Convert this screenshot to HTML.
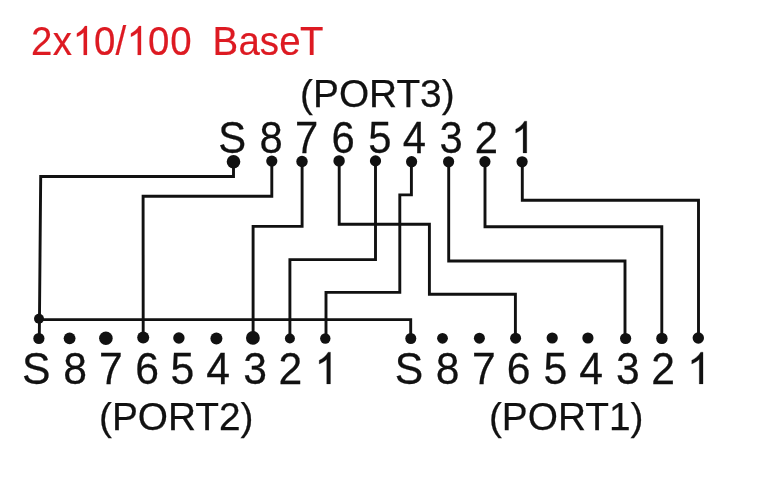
<!DOCTYPE html>
<html><head><meta charset="utf-8"><style>
html,body{margin:0;padding:0;background:#fff;overflow:hidden;}
svg{display:block;filter:blur(0.3px);}
text{font-family:"Liberation Sans",sans-serif;}
.g text,.g path{stroke:#111;stroke-width:0.25px;vector-effect:non-scaling-stroke;}
.r text,.r path{stroke:#dd1a22;stroke-width:0.2px;vector-effect:non-scaling-stroke;}
</style></head><body>
<svg width="762" height="485" viewBox="0 0 762 485">
<rect width="762" height="485" fill="#fff"/>
<g class="r" fill="#dd1a22" text-anchor="middle">
<text transform="translate(41.6 54.9) scale(0.96 1)" font-size="40">2</text>
<text transform="translate(62.3 54.9) scale(0.96 1)" font-size="40">x</text>
<path transform="translate(72.7 54.9) scale(38.4 40)" d="M0.3726 0 L0.2847 0 L0.2847 -0.5601 C0.2390 -0.5170 0.1700 -0.4760 0.1090 -0.4530 L0.1090 -0.5380 C0.1850 -0.5740 0.2640 -0.6330 0.3190 -0.7220 L0.3726 -0.7220 Z"/>
<text transform="translate(104.75 54.9) scale(0.96 1)" font-size="40">0</text>
<text transform="translate(120.85 54.9) scale(0.96 1)" font-size="40">/</text>
<path transform="translate(126.75 54.9) scale(38.4 40)" d="M0.3726 0 L0.2847 0 L0.2847 -0.5601 C0.2390 -0.5170 0.1700 -0.4760 0.1090 -0.4530 L0.1090 -0.5380 C0.1850 -0.5740 0.2640 -0.6330 0.3190 -0.7220 L0.3726 -0.7220 Z"/>
<text transform="translate(158.75 54.9) scale(0.96 1)" font-size="40">0</text>
<text transform="translate(180.8 54.9) scale(0.96 1)" font-size="40">0</text>
<text transform="translate(225.2 54.9) scale(0.96 1)" font-size="40">B</text>
<text transform="translate(249.1 54.9) scale(0.96 1)" font-size="40">a</text>
<text transform="translate(269.25 54.9) scale(0.96 1)" font-size="40">s</text>
<text transform="translate(289.9 54.9) scale(0.96 1)" font-size="40">e</text>
<text transform="translate(311.75 54.9) scale(0.96 1)" font-size="40">T</text>
</g>
<g class="g" fill="#111" text-anchor="middle" font-size="38.8">
<text x="377.35" y="106.9">(PORT3)</text>
<text x="176.25" y="429.6">(PORT2)</text>
<text x="566.2" y="429.6">(PORT1)</text>
</g>
<g class="g" fill="#111" text-anchor="middle">
<text transform="translate(232.2 152.9) scale(0.95 1)" font-size="44">S</text>
<text transform="translate(271.25 152.9) scale(0.95 1)" font-size="44">8</text>
<text transform="translate(306.6 152.9) scale(0.95 1)" font-size="44">7</text>
<text transform="translate(343.05 152.9) scale(0.95 1)" font-size="44">6</text>
<text transform="translate(379.9 152.9) scale(0.95 1)" font-size="44">5</text>
<text transform="translate(414.4 152.9) scale(0.95 1)" font-size="44">4</text>
<text transform="translate(451.25 152.9) scale(0.95 1)" font-size="44">3</text>
<text transform="translate(486.45 152.9) scale(0.95 1)" font-size="44">2</text>
<path transform="translate(511.18 152.9) scale(41.8 44)" d="M0.3726 0 L0.2847 0 L0.2847 -0.5601 C0.2390 -0.5170 0.1700 -0.4760 0.1090 -0.4530 L0.1090 -0.5380 C0.1850 -0.5740 0.2640 -0.6330 0.3190 -0.7220 L0.3726 -0.7220 Z"/>
<text transform="translate(36.3 383.9) scale(0.97 1)" font-size="44">S</text>
<text transform="translate(75.05 383.9) scale(0.97 1)" font-size="44">8</text>
<text transform="translate(110.8 383.9) scale(0.97 1)" font-size="44">7</text>
<text transform="translate(147 383.9) scale(0.97 1)" font-size="44">6</text>
<text transform="translate(182.45 383.9) scale(0.97 1)" font-size="44">5</text>
<text transform="translate(218.1 383.9) scale(0.97 1)" font-size="44">4</text>
<text transform="translate(255 383.9) scale(0.97 1)" font-size="44">3</text>
<text transform="translate(290.3 383.9) scale(0.97 1)" font-size="44">2</text>
<path transform="translate(314.57 383.9) scale(42.68 44)" d="M0.3726 0 L0.2847 0 L0.2847 -0.5601 C0.2390 -0.5170 0.1700 -0.4760 0.1090 -0.4530 L0.1090 -0.5380 C0.1850 -0.5740 0.2640 -0.6330 0.3190 -0.7220 L0.3726 -0.7220 Z"/>
<text transform="translate(409.1 383.9) scale(0.97 1)" font-size="44">S</text>
<text transform="translate(447.55 383.9) scale(0.97 1)" font-size="44">8</text>
<text transform="translate(483.95 383.9) scale(0.97 1)" font-size="44">7</text>
<text transform="translate(518.7 383.9) scale(0.97 1)" font-size="44">6</text>
<text transform="translate(555.35 383.9) scale(0.97 1)" font-size="44">5</text>
<text transform="translate(591 383.9) scale(0.97 1)" font-size="44">4</text>
<text transform="translate(627.95 383.9) scale(0.97 1)" font-size="44">3</text>
<text transform="translate(663 383.9) scale(0.97 1)" font-size="44">2</text>
<path transform="translate(687.12 383.9) scale(42.68 44)" d="M0.3726 0 L0.2847 0 L0.2847 -0.5601 C0.2390 -0.5170 0.1700 -0.4760 0.1090 -0.4530 L0.1090 -0.5380 C0.1850 -0.5740 0.2640 -0.6330 0.3190 -0.7220 L0.3726 -0.7220 Z"/>
</g>
<g fill="none" stroke="#111" stroke-width="2.9" stroke-linejoin="miter" stroke-linecap="square">
<path d="M233.5 161.7 L233.5 176.5 L40.7 176.5 L39.3 338.5"/>
<path d="M39.3 319.6 L410.7 319.6 L410.7 338.5"/>
<path d="M271.8 161.1 L271.8 196.2 L143.1 196.2 L143.2 337.6"/>
<path d="M302.1 161.5 L302.1 226.4 L253.1 226.4 L253.1 337.9"/>
<path d="M339.2 160.9 L339.2 224.3 L429.4 224.3 L429.4 294.3 L515.4 294.3 L515.4 338.2"/>
<path d="M375.5 160.9 L375.5 259.6 L289.9 259.6 L289.9 338.5"/>
<path d="M411.4 161.7 L411.4 194.9 L399.8 194.9 L399.8 292.4 L326 292.4 L326 338.5"/>
<path d="M448.7 161.8 L448.7 261 L625 261 L625 338.5"/>
<path d="M485 161.7 L485 226.8 L661.8 226.8 L661.8 338.4"/>
<path d="M522.3 161.8 L522.3 200.2 L698.5 200.2 L698.5 338"/>
</g>
<g fill="#111">
<circle cx="233.5" cy="161.7" r="6.8"/>
<circle cx="271.8" cy="161.1" r="5.6"/>
<circle cx="302" cy="161.5" r="5.7"/>
<circle cx="339.1" cy="160.9" r="5.7"/>
<circle cx="375.5" cy="160.9" r="5.6"/>
<circle cx="411.6" cy="161.7" r="5.6"/>
<circle cx="448.6" cy="161.8" r="5.6"/>
<circle cx="484.9" cy="161.7" r="5.6"/>
<circle cx="522.1" cy="161.8" r="5.6"/>
<circle cx="38.9" cy="338.5" r="5.6"/>
<circle cx="69.6" cy="338.3" r="5.9"/>
<circle cx="105.9" cy="338.2" r="6.8"/>
<circle cx="143.2" cy="337.6" r="6"/>
<circle cx="178.9" cy="338" r="5.7"/>
<circle cx="216.4" cy="338.6" r="6"/>
<circle cx="252.9" cy="337.9" r="6.9"/>
<circle cx="289.9" cy="338.5" r="5"/>
<circle cx="325.3" cy="338.5" r="5.2"/>
<circle cx="410.8" cy="338.5" r="5.5"/>
<circle cx="442.5" cy="338.3" r="5.4"/>
<circle cx="479.4" cy="338.2" r="5.5"/>
<circle cx="515.6" cy="338.2" r="5.5"/>
<circle cx="552.2" cy="338" r="5.6"/>
<circle cx="587.9" cy="338" r="5.6"/>
<circle cx="625.6" cy="338.5" r="5.6"/>
<circle cx="661.9" cy="338.4" r="5.7"/>
<circle cx="698.3" cy="338" r="5.7"/>
<circle cx="39" cy="318.7" r="5"/>
</g>
</svg>
</body></html>
